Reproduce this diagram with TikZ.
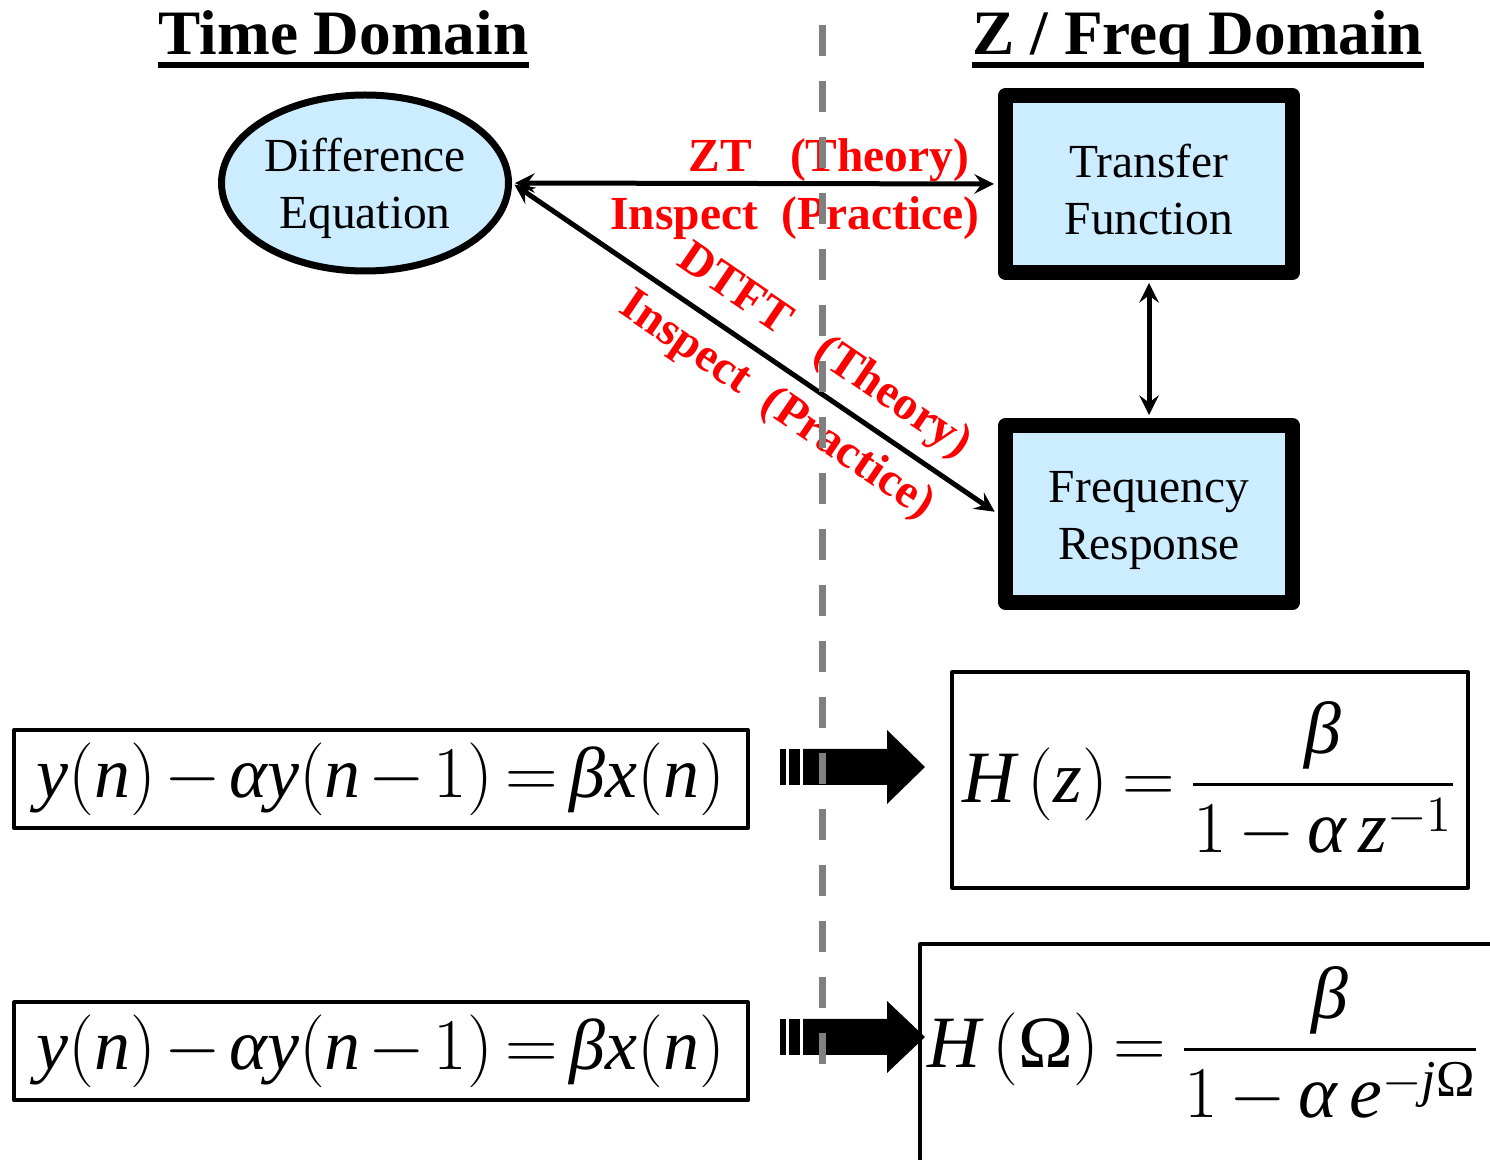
\documentclass[tikz,border=0pt]{standalone}
\usepackage{amsmath}
\usepackage{fontspec}
\setmainfont{Liberation Serif}
\usetikzlibrary{shapes.geometric}
\definecolor{lblue}{HTML}{CCECFF}
\definecolor{dgray}{RGB}{128,128,128}
\newcommand{\mi}[1]{\textit{#1}}
\newcommand{\eqsp}{\medmuskip=2mu\relax\thickmuskip=3mu\relax}
\newcommand{\frsp}{\medmuskip=3mu\relax\thickmuskip=3.5mu\relax}
\newcommand{\lup}{\rule{0pt}{12.7pt}}
\begin{document}
\begin{tikzpicture}[x=0.1mm, y=-0.1mm, line join=round, >=stealth,
	lbl/.style={font=\fontsize{13.5}{16.2}\selectfont, align=center},
	blk/.style={draw, line width=1.5mm, fill=lblue, minimum width=28.7mm, minimum height=17.7mm, inner sep=0pt},
	title/.style={font=\fontsize{18}{21}\selectfont\bfseries, inner sep=0pt, anchor=base west},
	rlbl/.style={text=red, font=\fontsize{13.5}{16.2}\selectfont\bfseries},
	eqbox/.style={draw, line width=0.4mm, inner sep=0pt},
	eqn/.style={font=\fontsize{20.5}{24}\selectfont},
	hfrac/.style={font=\fontsize{21}{25}\selectfont}]
	\useasboundingbox (0,0) rectangle (1490,1160);
	% headings
	\node[title] (td) at (158,55) {Time Domain};
	\node[title] (fd) at (972,55) {Z / Freq Domain};
	\draw[line width=0.6mm] ([yshift=-1mm]td.base west) -- ([yshift=-1mm]td.base east);
	\draw[line width=0.6mm] ([yshift=-1mm]fd.base west) -- ([yshift=-1mm]fd.base east);
	% blocks
	\node[ellipse, draw, line width=0.7mm, fill=lblue, minimum width=28.7mm, minimum height=17.6mm, inner sep=0pt, lbl] (de) at (365,183) {\lup Difference\\Equation};
	\node[blk, lbl] (tf) at (1149,184) {\lup Transfer\\Function};
	\node[blk, lbl] (fr) at (1149,514) {\lup Frequency\\Response};
	% connectors
	\draw[<->, line width=0.5mm, shorten <=0.3mm, shorten >=0.4mm] (de.east) -- (tf.west);
	\draw[<->, line width=0.5mm, shorten <=0.3mm, shorten >=0.4mm] (de.east) -- (fr.west)
		node[rlbl, pos=0.6, sloped, above] (dtft) {DTFT\hspace{0.8em}(Theory)}
		node[rlbl, pos=0.585, sloped, below] (insp2) {Inspect\hspace{0.5em}(Practice)};
	\draw[<->, line width=0.5mm, shorten <=0.3mm, shorten >=0.3mm] (tf.south) -- (fr.north);
	\node[rlbl, anchor=base east, inner sep=0pt] (zt) at (970,172) {ZT\hspace{0.8em}(Theory)};
	\node[rlbl, anchor=base east, inner sep=0pt] (insp1) at (980,230) {Inspect\hspace{0.5em}(Practice)};
	% equations
	\node[eqbox, eqn, minimum width=73.4mm, minimum height=9.8mm] (de1) at (381,779) {$\eqsp\mi{y}(\mi{n})-\mi{α}\mi{y}(\mi{n}-1)=\mi{β}\mi{x}(\mi{n})$};
	\node[eqbox, eqn, minimum width=73.4mm, minimum height=9.8mm] (de2) at (381,1051.5) {$\eqsp\mi{y}(\mi{n})-\mi{α}\mi{y}(\mi{n}-1)=\mi{β}\mi{x}(\mi{n})$};
	\node[eqbox, hfrac, minimum width=51.6mm, minimum height=21.6mm] (hz) at (1210,780) {$\frsp\mi{H}\,(\mi{z})=\dfrac{\mi{β}}{1-\mi{α}\,\mi{z}^{-1}}$};
	\node[hfrac, inner sep=0pt] (hw) at (1204,1045) {$\frsp\mi{H}\,(\textup{Ω})=\dfrac{\mi{β}}{1-\mi{α}\,\mi{e}^{-\mi{j}\textup{Ω}}}$};
	\draw[line width=0.4mm] (1500,944) -- (920,944) -- (920,1170);
	% block arrows
	\foreach \ya/\hh in {767/37, 1037/36}{
		\fill (780,\ya-18) rectangle (786,\ya+18);
		\fill (789,\ya-18) rectangle (800,\ya+18);
		\fill (803,\ya-18) -- (887,\ya-18) -- (887,\ya-\hh) -- (925,\ya) -- (887,\ya+\hh) -- (887,\ya+18) -- (803,\ya+18) -- cycle;
	}
	% divider
	\draw[dgray, line width=0.7mm, dash pattern=on 3.1mm off 2.5mm] (822,25) -- (822,1065);
\end{tikzpicture}
\end{document}
